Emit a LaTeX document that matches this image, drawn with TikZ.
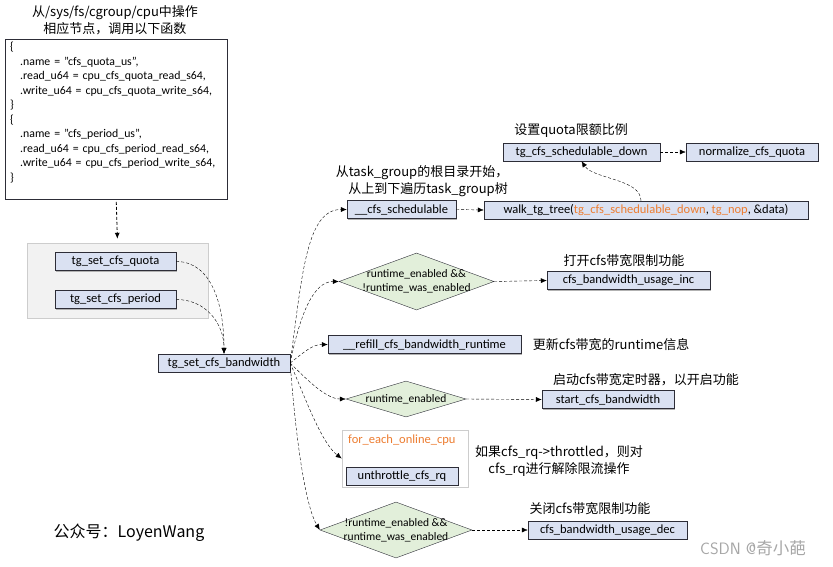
\documentclass[tikz,border=0pt]{standalone}
\usepackage{fontspec}
\setmainfont{Carlito}
\newfontfamily\cjk{Noto Sans CJK SC}
\usepackage{xcolor}
\usepackage{tikz}
\usetikzlibrary{arrows.meta, shapes.geometric, shadows}

\definecolor{boxfill}{RGB}{218,225,242}
\definecolor{diafill}{RGB}{226,239,218}
\definecolor{edgegray}{RGB}{45,45,55}
\definecolor{panelfill}{RGB}{242,242,242}
\definecolor{panelline}{RGB}{205,205,205}
\definecolor{orangetxt}{RGB}{237,125,49}

\begin{document}
\begin{tikzpicture}[x=1pt, y=-1pt, >={Latex[length=6pt,width=5pt]},
    every node/.style={inner sep=0pt},
    box/.style={draw=edgegray, fill=boxfill, minimum height=18, font=\fontsize{12.5}{14}\selectfont,
        drop shadow={shadow xshift=1pt, shadow yshift=-1pt, fill=black!30, opacity=1}},
    dia/.style={diamond, draw=edgegray, fill=diafill, aspect=2.7},
    panel/.style={draw=panelline, fill=panelfill},
    note/.style={font=\cjk\fontsize{13}{16.5}\selectfont, align=center},
    dline/.style={dash pattern=on 3pt off 2pt, ->}]

    \useasboundingbox (0,0) rectangle (833,566);

    % cgroup files
    \node[note] (title) at (115,20) {从/sys/fs/cgroup/cpu中操作\\相应节点，调用以下函数};
    \node[draw=edgegray, anchor=north west, text width=212, inner xsep=5, inner ysep=3,
        align=left, font=\fontsize{11.8}{14.5}\selectfont] (code) at (5,39) {%
        \{\\
        \hspace*{10pt}.name = "cfs\_quota\_us",\\
        \hspace*{10pt}.read\_u64 = cpu\_cfs\_quota\_read\_s64,\\
        \hspace*{10pt}.write\_u64 = cpu\_cfs\_quota\_write\_s64,\\
        \}\\
        \{\\
        \hspace*{10pt}.name = "cfs\_period\_us",\\
        \hspace*{10pt}.read\_u64 = cpu\_cfs\_period\_read\_s64,\\
        \hspace*{10pt}.write\_u64 = cpu\_cfs\_period\_write\_s64,\\
        \}\\
        \mbox{}};

    % setters
    \node[panel, minimum width=181, minimum height=75] (grp) at (117.5,280.5) {};
    \node[box, minimum width=121] (quota) at (115.5,261.5) {tg\_set\_cfs\_quota};
    \node[box, minimum width=121] (period) at (115.5,299.5) {tg\_set\_cfs\_period};
    \node[box, minimum width=132] (bw) at (224,363) {tg\_set\_cfs\_bandwidth};

    % schedulable check
    \node[box, minimum width=109] (cs) at (401.5,209.5) {\_\_cfs\_schedulable};
    \node[box, minimum width=324] (walk) at (646,210) {walk\_tg\_tree(\textcolor{orangetxt}{tg\_cfs\_schedulable\_down}, \textcolor{orangetxt}{tg\_nop}, \&data)};
    \node[box, minimum width=157] (down) at (581.5,152) {tg\_cfs\_schedulable\_down};
    \node[box, minimum width=132] (norm) at (752,152) {normalize\_cfs\_quota};
    \node[note] (lbdown) at (571,131) {设置quota限额比例};
    \node[note] (lbcs) at (422,181) {从task\_group的根目录开始，\\\hspace*{12pt}从上到下遍历task\_group树};

    % usage inc
    \node[dia, minimum width=155, minimum height=57] (d1) at (416.5,281.5) {};
    \node[align=center, font=\fontsize{11.5}{14}\selectfont] (d1txt) at (d1) {runtime\_enabled \&\&\\!runtime\_was\_enabled};
    \node[box, minimum width=163] (inc) at (628.5,280.5) {cfs\_bandwidth\_usage\_inc};
    \node[note] (lbinc) at (624,261) {打开cfs带宽限制功能};

    % refill
    \node[box, minimum width=193] (refill) at (424.5,344.5) {\_\_refill\_cfs\_bandwidth\_runtime};
    \node[note] (lbrefill) at (611,345) {更新cfs带宽的runtime信息};

    % timer
    \node[dia, minimum width=120, minimum height=36] (d2) at (406,399) {};
    \node[font=\fontsize{11.5}{14}\selectfont] (d2txt) at (d2) {runtime\_enabled};
    \node[box, minimum width=132] (start) at (608,399.5) {start\_cfs\_bandwidth};
    \node[note] (lbstart) at (646,380) {启动cfs带宽定时器，以开启功能};

    % unthrottle
    \node[draw=panelline, fill=white, minimum width=126, minimum height=57] (each) at (405,458.5) {};
    \node[anchor=west, text=orangetxt, font=\fontsize{12.5}{14}\selectfont] (eachtxt) at (348,440) {for\_each\_online\_cpu};
    \node[box, minimum width=112] (unthr) at (402,476) {unthrottle\_cfs\_rq};
    \node[note] (lbunthr) at (559,461) {如果cfs\_rq->throttled，则对\\cfs\_rq进行解除限流操作};

    % usage dec
    \node[dia, minimum width=152, minimum height=56] (d3) at (396,530) {};
    \node[align=center, font=\fontsize{11.5}{14}\selectfont] (d3txt) at (d3) {!runtime\_enabled \&\&\\runtime\_was\_enabled};
    \node[box, minimum width=159] (dec) at (607.5,530) {cfs\_bandwidth\_usage\_dec};
    \node[note] (lbdec) at (590,509) {关闭cfs带宽限制功能};

    \node[font=\cjk\fontsize{16}{18}\selectfont] (wx) at (129,533) {公众号：LoyenWang};
    \node[font=\fontsize{16.5}{18}\selectfont\sffamily, text=black!35] (csdn) at (753,548) {CSDN @{\cjk 奇小葩}};

    % arrows
    \draw[dline, thick, shorten <=3pt, shorten >=4pt] (code.south) -- (grp.north);
    \draw[dline] (quota.east) .. controls +(35,0) and +(0,-50) .. (bw.north);
    \draw[dline] (period.east) .. controls +(30,0) and +(0,-30) .. (bw.north);
    \draw[dline] (bw.east) .. controls +(12,-90) and +(-40,0) .. (cs.west);
    \draw[dline] (bw.east) .. controls +(10,-50) and +(-25,0) .. (d1.west);
    \draw[dline] (bw.east) .. controls +(15,-12) and +(-15,0) .. (refill.west);
    \draw[dline] (bw.east) .. controls +(15,15) and +(-20,0) .. (d2.west);
    \draw[dline] (bw.east) .. controls +(15,35) and +(-20,-15) .. (each.west);
    \draw[dline] (bw.east) .. controls +(5,70) and +(-15,-25) .. (d3.west);
    \draw[dline] (cs.east) -- (walk.west);
    \draw[dline] ([xshift=-5pt]walk.north) .. controls +(0,-22) and +(12,18) .. (down.south);
    \draw[dline] (down.east) -- (norm.west);
    \draw[dline] (d1.east) -- (inc.west);
    \draw[dline] (d2.east) -- (start.west);
    \draw[dline] (d3.east) -- (dec.west);
\end{tikzpicture}
\end{document}
